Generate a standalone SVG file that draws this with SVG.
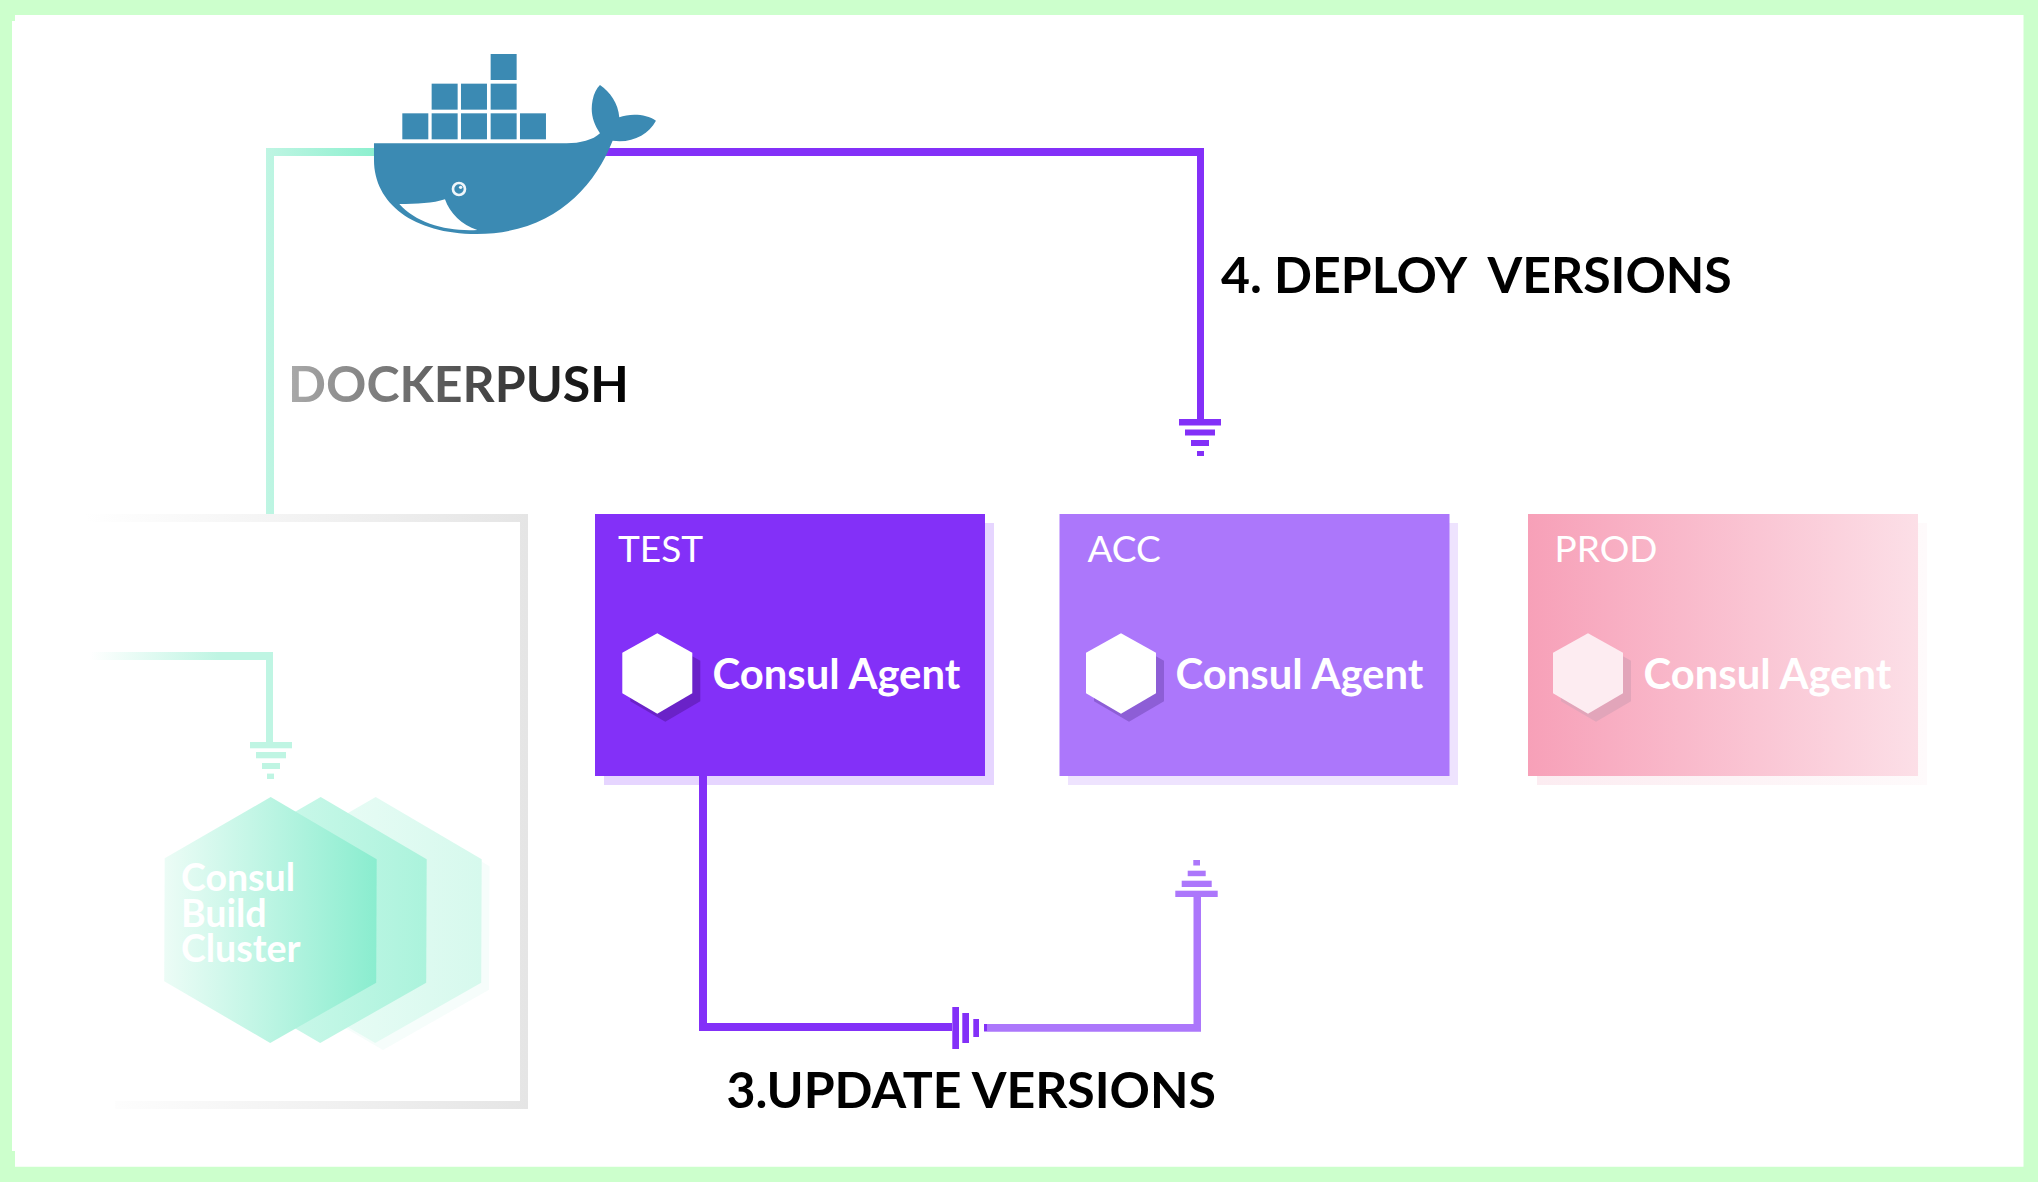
<svg xmlns="http://www.w3.org/2000/svg" width="2038" height="1182" viewBox="0 0 2038 1182">
<defs>
<linearGradient id="gTealH" gradientUnits="userSpaceOnUse" x1="266" x2="374" y1="0" y2="0"><stop offset="0" stop-color="#bff5e3"/><stop offset="1" stop-color="#8df0cf"/></linearGradient>
<linearGradient id="gTealFade" gradientUnits="userSpaceOnUse" x1="90" x2="273" y1="0" y2="0"><stop offset="0" stop-color="#bff5e3" stop-opacity="0"/><stop offset="0.7" stop-color="#bff5e3"/><stop offset="1" stop-color="#bff5e3"/></linearGradient>
<linearGradient id="gFrameTop" gradientUnits="userSpaceOnUse" x1="85" x2="528" y1="0" y2="0"><stop offset="0" stop-color="#e5e5e5" stop-opacity="0"/><stop offset="1" stop-color="#e5e5e5"/></linearGradient>
<linearGradient id="gProd" x1="0" x2="1" y1="0" y2="0"><stop offset="0" stop-color="#f7a0b8"/><stop offset="1" stop-color="#fcdfe7"/></linearGradient>
<linearGradient id="gProdS" x1="0" x2="1" y1="0" y2="0"><stop offset="0" stop-color="#fcecf1"/><stop offset="1" stop-color="#fefafb"/></linearGradient>
<linearGradient id="gHex1" x1="0" x2="1" y1="0" y2="0"><stop offset="0" stop-color="#ecfcf6"/><stop offset="1" stop-color="#8aedcf"/></linearGradient>
<linearGradient id="gHex2" x1="0" x2="1" y1="0" y2="0"><stop offset="0" stop-color="#dafaf0"/><stop offset="1" stop-color="#abf3dc"/></linearGradient>
<linearGradient id="gHex3" x1="0" x2="1" y1="0" y2="0"><stop offset="0" stop-color="#f0fdf9"/><stop offset="1" stop-color="#d6f9ed"/></linearGradient>
<linearGradient id="gPush" gradientUnits="userSpaceOnUse" x1="289" x2="625" y1="0" y2="0"><stop offset="0" stop-color="#aaaaaa"/><stop offset="1" stop-color="#000000"/></linearGradient>
<polygon id="hex" points="35,0 70,19.5 70,60 35,80.5 0,60 0,19.5"/>
<polygon id="bighex" points="106.5,0 212.5,62.3 212,185.7 106,246 0,184.2 0.5,61.2"/>
</defs>
<style>
.lbl{font-family:Lato,"Liberation Sans",sans-serif;font-weight:700;font-size:50px;fill:#000}
.env{font-family:Lato,"Liberation Sans",sans-serif;font-weight:400;font-size:37px;fill:#fff}
.agent{font-family:Lato,"Liberation Sans",sans-serif;font-weight:700;font-size:41.8px;fill:#fff}
.cl{font-family:Lato,"Liberation Sans",sans-serif;font-weight:700;font-size:37.5px;fill:#fff}
.whale{fill:#3b8ab3}
.teal{fill:#bff5e3}.dark{fill:#8330f8}.light{fill:#ac77fb}
</style>
<rect width="2038" height="1182" fill="#ccffcc"/>
<path d="M15,15H2023.5V1166.7H15V1151H12V21H15Z" fill="#fff"/>
<g id="label-deploy"><text class="lbl" x="1221" y="293" xml:space="preserve">4. DEPLOY  VERSIONS</text></g>
<g id="label-push"><text class="lbl" x="288" y="402" style="fill:url(#gPush)">DOCKERPUSH</text></g>
<g id="label-update"><text class="lbl" x="726.5" y="1108">3.UPDATE VERSIONS</text></g>
<g id="build-frame"><path d="M85,514H528V1109H115V1101H520V522H85Z" fill="url(#gFrameTop)"/></g>
<g id="cluster">
<use href="#bighex" x="277" y="804" fill="#f6fdfb"/>
<use href="#bighex" x="269.2" y="797" fill="url(#gHex3)"/>
<use href="#bighex" x="214.2" y="797" fill="url(#gHex2)"/>
<use href="#bighex" x="164.2" y="797" fill="url(#gHex1)"/>
<text class="cl" x="181" y="890.5">Consul</text>
<text class="cl" x="181" y="926.5">Build</text>
<text class="cl" x="181" y="961.5">Cluster</text>
</g>
<g id="test">
<rect x="604" y="523" width="390" height="262" fill="#e6d5ff"/>
<rect x="595" y="514" width="390" height="262" class="dark"/>
<use href="#hex" x="630.3" y="641.3" fill="#6a22c8"/>
<use href="#hex" x="622.3" y="633.3" fill="#fff"/>
<text class="env" x="618" y="561.5">TEST</text>
<text class="agent" x="712.5" y="688.5">Consul Agent</text>
</g>
<g id="acc">
<rect x="1068" y="523" width="390" height="262" fill="#eee3fe"/>
<rect x="1059.5" y="514" width="390" height="262" class="light"/>
<use href="#hex" x="1094" y="641.3" fill="#8d5ed6"/>
<use href="#hex" x="1086" y="633.3" fill="#fff"/>
<text class="env" x="1087.5" y="561.5">ACC</text>
<text class="agent" x="1175.5" y="688.5">Consul Agent</text>
</g>
<g id="prod">
<rect x="1537" y="523" width="390" height="262" fill="url(#gProdS)"/>
<rect x="1528" y="514" width="390" height="262" fill="url(#gProd)"/>
<use href="#hex" x="1561" y="641.3" fill="#e2a5ba"/>
<use href="#hex" x="1553" y="633.3" fill="#fdecf1"/>
<text class="env" x="1554.5" y="561.5">PROD</text>
<text class="agent" x="1643.5" y="688.5">Consul Agent</text>
</g>
<g id="connectors">
<path d="M266,514V148H374V156H274V514Z" fill="url(#gTealH)"/>
<path d="M600,148H1204V425H1197V156H600Z" class="dark"/>
<rect x="1179" y="419" width="42" height="6.5" class="dark"/><rect x="1185" y="429.5" width="30" height="6" class="dark"/><rect x="1191" y="440" width="18" height="6" class="dark"/><rect x="1197" y="451" width="7" height="5" class="dark"/>
<path d="M90,652H273V742H266V660H90Z" fill="url(#gTealFade)"/>
<rect x="250" y="742" width="42" height="6.3" class="teal"/><rect x="256" y="752" width="30" height="6.3" class="teal"/><rect x="262" y="763" width="18" height="6" class="teal"/><rect x="267" y="773.6" width="7" height="5.4" class="teal"/>
<path d="M699,776H707V1023H952V1031H699Z" class="dark"/>
<rect x="952.3" y="1007" width="6.7" height="42" class="dark"/><rect x="962.3" y="1013" width="6.7" height="30" class="dark"/><rect x="973.3" y="1019" width="5.7" height="18" class="dark"/><rect x="984" y="1024" width="3" height="7.5" class="dark"/>
<path d="M987,1024H1193.5V897H1201V1031.7H987Z" class="light"/>
<rect x="1175.3" y="890.7" width="42.4" height="6.3" class="light"/><rect x="1181.7" y="880.7" width="30" height="6.3" class="light"/><rect x="1187.7" y="870.7" width="18" height="5.5" class="light"/><rect x="1193.3" y="860" width="6.7" height="5.5" class="light"/>
</g>
<g id="docker" transform="translate(240,30) scale(0.3333)">
<path class="whale" d="M402,340H980C1020,340 1060,330 1080,310C1060,280 1050,250 1058,210C1062,190 1070,175 1080,165C1110,185 1135,220 1138,262C1170,250 1220,252 1248,272C1225,315 1175,340 1118,332C1060,480 930,612 710,612C520,612 402,520 402,390Z"/>
<path fill="#fff" d="M478,522C530,522 580,520 615,508C630,550 665,585 712,600C620,605 530,580 478,522Z"/>
<circle cx="657" cy="477" r="18" fill="none" stroke="#f0f6fa" stroke-width="8"/>
<circle cx="662" cy="472" r="5" fill="#f0f6fa"/>
<g class="whale"><rect x="752" y="72" width="78" height="78"/><rect x="575" y="161" width="78" height="78"/><rect x="663" y="161" width="78" height="78"/><rect x="752" y="161" width="78" height="78"/><rect x="487" y="250" width="78" height="78"/><rect x="575" y="250" width="78" height="78"/><rect x="663" y="250" width="78" height="78"/><rect x="752" y="250" width="78" height="78"/><rect x="840" y="250" width="78" height="78"/></g>
</g>
</svg>
